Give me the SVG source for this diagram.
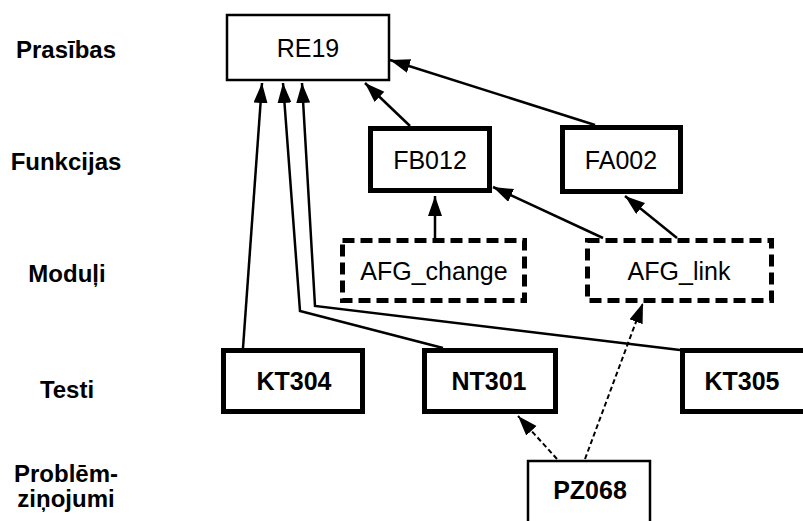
<svg xmlns="http://www.w3.org/2000/svg" width="803" height="521" viewBox="0 0 803 521">
<defs>
<marker id="ah" markerUnits="userSpaceOnUse" markerWidth="22" markerHeight="16" refX="20" refY="7" orient="auto">
<path d="M0,0 L20,7 L0,14 z" fill="#000"/>
</marker>
<style>
.lbl{font-family:"Liberation Sans",Arial,sans-serif;font-size:24px;font-weight:bold;text-anchor:middle;fill:#000}
.t{font-family:"Liberation Sans",Arial,sans-serif;font-size:25px;text-anchor:middle;fill:#000}
.b{font-weight:bold}
.thin{fill:#fff;stroke:#000;stroke-width:2.5}
.thick{fill:#fff;stroke:#000;stroke-width:5}
.dash{fill:#fff;stroke:#000;stroke-width:5;stroke-dasharray:12 6}
.c{fill:none;stroke:#000;stroke-width:2.5;marker-end:url(#ah)}
.d{fill:none;stroke:#000;stroke-width:2;stroke-dasharray:5 3;marker-end:url(#ah)}
</style>
</defs>
<rect width="803" height="521" fill="#fff"/>
<g id="labels">
<text class="lbl" x="66" y="58">Prasības</text>
<text class="lbl" x="66" y="170">Funkcijas</text>
<text class="lbl" x="67" y="282">Moduļi</text>
<text class="lbl" x="67" y="398">Testi</text>
<text class="lbl" x="66" y="482">Problēm-</text>
<text class="lbl" x="66" y="507">ziņojumi</text>
</g>
<g id="connectors">
<path class="c" d="M410,126 L365,83"/>
<path class="c" d="M595,125 L390,60"/>
<path class="c" d="M435,238 L435,196"/>
<path class="c" d="M603,238 L493,187"/>
<path class="c" d="M677,238 L625,196"/>
<path class="c" d="M243,348 L262,83"/>
<path class="c" d="M443,348 L300,311 L283,83"/>
<path class="c" d="M680,350 L315,306 L302,83"/>
<path class="d" d="M557,459 L518,416"/>
<path class="d" d="M585,459 L643,303"/>
</g>
<g id="RE19"><rect class="thin" x="227" y="15" width="162" height="65"/><text class="t" x="308" y="57">RE19</text></g>
<g id="FB012"><rect class="thick" x="370.5" y="128.5" width="119" height="62"/><text class="t" x="430" y="169">FB012</text></g>
<g id="FA002"><rect class="thick" x="562.5" y="127.5" width="118" height="64"/><text class="t" x="621" y="169">FA002</text></g>
<g id="AFG_change"><rect class="dash" x="342.5" y="240.5" width="182" height="60"/><text class="t" x="434" y="280">AFG_change</text></g>
<g id="AFG_link"><rect class="dash" x="587.5" y="240.5" width="184" height="60"/><text class="t" x="679" y="280">AFG_link</text></g>
<g id="KT304"><rect class="thick" x="223.5" y="350.5" width="139" height="61"/><text class="t b" x="294" y="390">KT304</text></g>
<g id="NT301"><rect class="thick" x="424.5" y="350.5" width="131" height="61"/><text class="t b" x="489" y="390">NT301</text></g>
<g id="KT305"><rect class="thick" x="682.5" y="350.5" width="140" height="61"/><text class="t b" x="742" y="390">KT305</text></g>
<g id="PZ068"><rect class="thin" x="528" y="461" width="122" height="80"/><text class="t b" x="590" y="499">PZ068</text></g>
</svg>
